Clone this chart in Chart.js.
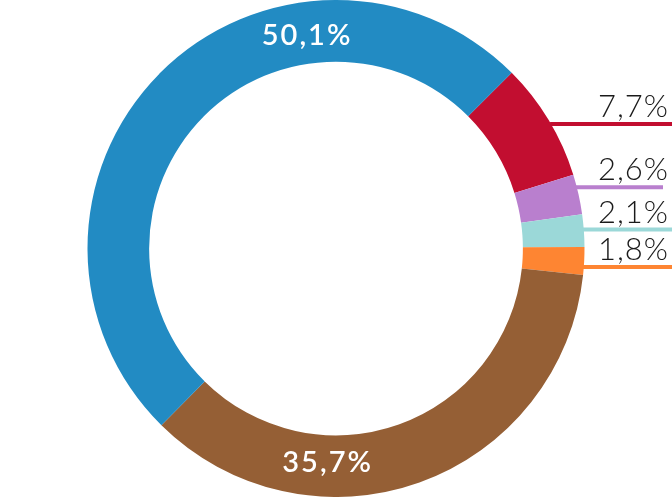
<!DOCTYPE html>
<html>
<head>
<meta charset="utf-8">
<script src="https://cdn.jsdelivr.net/npm/chart.js@4/dist/chart.umd.min.js"></script>
<style>
  html, body { margin: 0; padding: 0; background: #fff; }
  .wrap { width: 672px; height: 497px; position: relative; }
</style>
</head>
<body>
<div class="wrap"><canvas id="c" width="672" height="497"></canvas></div>
<script>
// ── Data ───────────────────────────────────────────────────────────────────
const labels = ['Rosso', 'Viola', 'Azzurro', 'Arancio', 'Marrone', 'Blu'];
const values = [7.7, 2.6, 2.1, 1.8, 35.7, 50.1];
const valueLabels = ['7,7%', '2,6%', '2,1%', '1,8%', '35,7%', '50,1%'];
const colors = ['#c20e30', '#b97fce', '#9bd8d8', '#fe8532', '#955f35', '#228bc3'];

// label styling: 'out' = leader line to the right, 'in' = white text on ring
const labelMode = ['out', 'out', 'out', 'out', 'in', 'in'];
const lineNudge = [4, -7, -1, 6, 0, 0];         // px shift of leader line
const lineEnd   = [672, 663, 672, 672, 0, 0];    // right end of leader line
const inAngle   = [0, 0, 0, 0, 182.5, -8];       // deg from top, clockwise

const labelPlugin = {
  id: 'sliceLabels',
  afterDatasetsDraw(chart) {
    const ctx = chart.ctx;
    const meta = chart.getDatasetMeta(0);
    meta.data.forEach((arc, i) => {
      const { x: cx, y: cy, outerRadius: R, innerRadius: r, startAngle, endAngle } = arc.getProps(['x', 'y', 'outerRadius', 'innerRadius', 'startAngle', 'endAngle'], true);
      ctx.save();
      if (labelMode[i] === 'out') {
        const mid = (startAngle + endAngle) / 2;
        const y = cy + R * Math.sin(mid) + lineNudge[i];
        const x0 = cx + Math.sqrt(Math.max(0, R * R - (y - cy) * (y - cy))) - 1;
        ctx.strokeStyle = colors[i];
        ctx.lineWidth = 4;
        ctx.beginPath();
        ctx.moveTo(x0, y);
        ctx.lineTo(lineEnd[i], y);
        ctx.stroke();
        ctx.fillStyle = '#1a1a1a';
        ctx.font = '300 31px Lato, "Open Sans", sans-serif';
        ctx.letterSpacing = '1px';
        ctx.textAlign = 'right';
        ctx.textBaseline = 'alphabetic';
        ctx.fillText(valueLabels[i], 669, y - 7);
      } else {
        const a = (inAngle[i] - 90) * Math.PI / 180;
        const rm = (R + r) / 2 - 3;
        ctx.fillStyle = '#ffffff';
        ctx.font = '600 29px Lato, "Open Sans", sans-serif';
        ctx.letterSpacing = '2px';
        ctx.textAlign = 'center';
        ctx.textBaseline = 'middle';
        ctx.fillText(valueLabels[i], cx + rm * Math.cos(a) + 1, cy + rm * Math.sin(a));
      }
      ctx.restore();
    });
  }
};

new Chart(document.getElementById('c'), {
  type: 'doughnut',
  data: {
    labels,
    datasets: [{
      data: values,
      backgroundColor: colors,
      borderWidth: 0,
      hoverOffset: 0
    }]
  },
  options: {
    responsive: false,
    animation: false,
    rotation: 45,
    cutout: '75.2%',
    layout: { padding: 0 },
    plugins: { legend: { display: false }, tooltip: { enabled: false } }
  },
  plugins: [labelPlugin]
});
</script>
</body>
</html>
